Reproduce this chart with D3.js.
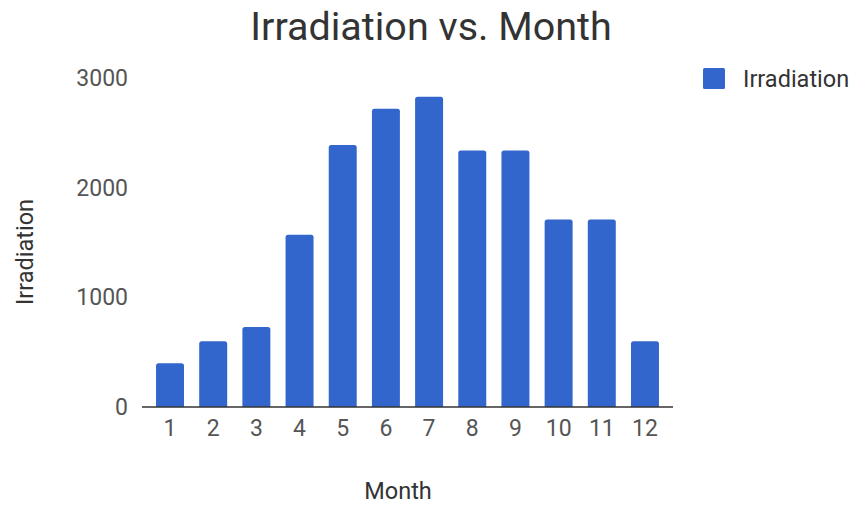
<!DOCTYPE html>
<html>
<head>
<meta charset="utf-8">
<script src="https://cdn.jsdelivr.net/npm/d3@7"></script>
<style>
  html, body { margin: 0; padding: 0; background: #fff; }
  svg { display: block; font-family: Roboto, "Noto Sans", sans-serif; }
</style>
</head>
<body>
<svg id="chart" width="854" height="505"></svg>
<script>
// Monthly irradiation values
const months = ["1", "2", "3", "4", "5", "6", "7", "8", "9", "10", "11", "12"];
const irradiation = [400, 600, 730, 1570, 2390, 2720, 2830, 2340, 2340, 1710, 1710, 600];
const yTicks = [0, 1000, 2000, 3000];
const seriesName = "Irradiation";
const titleText = "Irradiation vs. Month";
const xTitle = "Month";
const yTitle = "Irradiation";

const svg = d3.select("#chart");
const barColor = "#3366cc";

const plot = { left: 142, right: 673, top: 78, bottom: 407 };

const x = d3.scaleBand()
  .domain(months)
  .range([plot.left, plot.right])
  .paddingInner(0.352)
  .paddingOuter(0.325);

const y = d3.scaleLinear()
  .domain([0, 3000])
  .range([plot.bottom, plot.top]);

// Title
svg.append("text")
  .attr("x", 431).attr("y", 40)
  .attr("text-anchor", "middle")
  .attr("font-size", 39.5)
  .attr("fill", "#333")
  .text(titleText);

// Bars with slightly rounded tops
const r = 2.5;
svg.append("g").selectAll("path")
  .data(irradiation)
  .join("path")
  .attr("fill", barColor)
  .attr("d", (d, i) => {
    const x0 = x(months[i]), w = x.bandwidth();
    const y0 = y(d), y1 = y(0);
    return `M${x0},${y1}V${y0 + r}Q${x0},${y0} ${x0 + r},${y0}H${x0 + w - r}Q${x0 + w},${y0} ${x0 + w},${y0 + r}V${y1}Z`;
  });

// Y axis labels (no line, no ticks)
const yAxis = d3.axisLeft(y).tickValues(yTicks).tickFormat(d3.format("d")).tickSize(0).tickPadding(14);
const gy = svg.append("g").attr("transform", `translate(${plot.left},0)`).call(yAxis);
gy.select(".domain").remove();
gy.selectAll("text")
  .attr("font-family", "Roboto, sans-serif")
  .attr("font-size", 23)
  .attr("fill", "#555");

// X axis
const xAxis = d3.axisBottom(x).tickSize(0).tickPadding(13);
const gx = svg.append("g").attr("transform", `translate(0,${plot.bottom})`).call(xAxis);
gx.select(".domain").remove();
gx.selectAll("text")
  .attr("font-family", "Roboto, sans-serif")
  .attr("font-size", 23)
  .attr("fill", "#555");

// Baseline
svg.append("line")
  .attr("x1", plot.left).attr("x2", plot.right)
  .attr("y1", y(0)).attr("y2", y(0))
  .attr("stroke", "#333").attr("stroke-width", 1.5);

// Axis titles
svg.append("text")
  .attr("x", 398).attr("y", 499)
  .attr("text-anchor", "middle")
  .attr("font-size", 23.5)
  .attr("fill", "#333")
  .text(xTitle);

svg.append("text")
  .attr("transform", "translate(33,252) rotate(-90)")
  .attr("text-anchor", "middle")
  .attr("font-size", 23.5)
  .attr("fill", "#333")
  .text(yTitle);

// Legend
const legend = svg.append("g").attr("transform", "translate(703,68)");
legend.append("rect")
  .attr("width", 22).attr("height", 21).attr("rx", 1.5)
  .attr("fill", barColor);
legend.append("text")
  .attr("x", 40).attr("y", 18.5)
  .attr("font-size", 23.5)
  .attr("fill", "#333")
  .text(seriesName);
</script>
</body>
</html>
